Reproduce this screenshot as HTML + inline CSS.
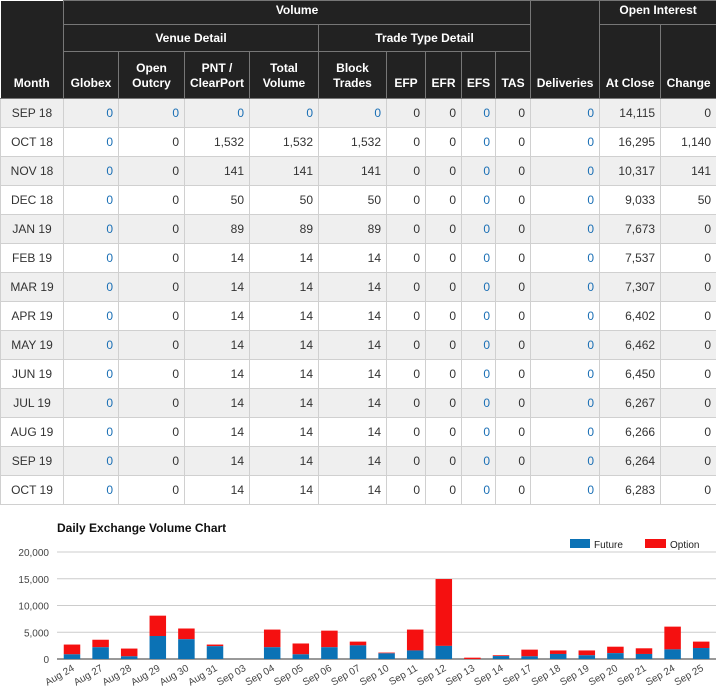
<!DOCTYPE html>
<html><head><meta charset="utf-8"><style>
body{margin:0;width:716px;height:698px;background:#fff;font-family:"Liberation Sans",Arial,sans-serif;overflow:hidden;position:relative}
table{border-collapse:collapse;table-layout:fixed;width:716px;position:absolute;left:0;top:0}
th{background:#222;color:#fff;font-size:12px;font-weight:bold;border:1px solid #777;padding:0 3px;line-height:15px}
th.b{vertical-align:bottom;padding-bottom:7px}
td{font-size:12px;color:#333;border:1px solid #d0d0d0;height:28px;padding:0 5px;text-align:right}
td:first-child{text-align:center}
tr.o td{background:#efefef}
.bl{color:#1a6fb5}
</style></head><body>
<table>
<colgroup><col style="width:63px"><col style="width:55px"><col style="width:66px"><col style="width:65px"><col style="width:69px"><col style="width:68px"><col style="width:39px"><col style="width:36px"><col style="width:34px"><col style="width:35px"><col style="width:69px"><col style="width:61px"><col style="width:56px"></colgroup>
<tr style="height:24px"><th rowspan="3" class="b" style="border-top:none;border-left:none">Month</th><th colspan="9" style="vertical-align:top;padding-top:2px">Volume</th><th rowspan="3" class="b">Deliveries</th><th colspan="2" style="vertical-align:top;padding-top:2px">Open Interest</th></tr>
<tr style="height:27px"><th colspan="4">Venue Detail</th><th colspan="5">Trade Type Detail</th><th rowspan="2" class="b">At Close</th><th rowspan="2" class="b">Change</th></tr>
<tr style="height:47px"><th class="b">Globex</th><th class="b">Open<br>Outcry</th><th class="b">PNT /<br>ClearPort</th><th class="b">Total<br>Volume</th><th class="b">Block<br>Trades</th><th class="b">EFP</th><th class="b">EFR</th><th class="b">EFS</th><th class="b">TAS</th></tr>
<tr class="o"><td>SEP 18</td><td class="bl">0</td><td class="bl">0</td><td class="bl">0</td><td class="bl">0</td><td class="bl">0</td><td>0</td><td>0</td><td class="bl">0</td><td>0</td><td class="bl">0</td><td>14,115</td><td>0</td></tr>
<tr><td>OCT 18</td><td class="bl">0</td><td>0</td><td>1,532</td><td>1,532</td><td>1,532</td><td>0</td><td>0</td><td class="bl">0</td><td>0</td><td class="bl">0</td><td>16,295</td><td>1,140</td></tr>
<tr class="o"><td>NOV 18</td><td class="bl">0</td><td>0</td><td>141</td><td>141</td><td>141</td><td>0</td><td>0</td><td class="bl">0</td><td>0</td><td class="bl">0</td><td>10,317</td><td>141</td></tr>
<tr><td>DEC 18</td><td class="bl">0</td><td>0</td><td>50</td><td>50</td><td>50</td><td>0</td><td>0</td><td class="bl">0</td><td>0</td><td class="bl">0</td><td>9,033</td><td>50</td></tr>
<tr class="o"><td>JAN 19</td><td class="bl">0</td><td>0</td><td>89</td><td>89</td><td>89</td><td>0</td><td>0</td><td class="bl">0</td><td>0</td><td class="bl">0</td><td>7,673</td><td>0</td></tr>
<tr><td>FEB 19</td><td class="bl">0</td><td>0</td><td>14</td><td>14</td><td>14</td><td>0</td><td>0</td><td class="bl">0</td><td>0</td><td class="bl">0</td><td>7,537</td><td>0</td></tr>
<tr class="o"><td>MAR 19</td><td class="bl">0</td><td>0</td><td>14</td><td>14</td><td>14</td><td>0</td><td>0</td><td class="bl">0</td><td>0</td><td class="bl">0</td><td>7,307</td><td>0</td></tr>
<tr><td>APR 19</td><td class="bl">0</td><td>0</td><td>14</td><td>14</td><td>14</td><td>0</td><td>0</td><td class="bl">0</td><td>0</td><td class="bl">0</td><td>6,402</td><td>0</td></tr>
<tr class="o"><td>MAY 19</td><td class="bl">0</td><td>0</td><td>14</td><td>14</td><td>14</td><td>0</td><td>0</td><td class="bl">0</td><td>0</td><td class="bl">0</td><td>6,462</td><td>0</td></tr>
<tr><td>JUN 19</td><td class="bl">0</td><td>0</td><td>14</td><td>14</td><td>14</td><td>0</td><td>0</td><td class="bl">0</td><td>0</td><td class="bl">0</td><td>6,450</td><td>0</td></tr>
<tr class="o"><td>JUL 19</td><td class="bl">0</td><td>0</td><td>14</td><td>14</td><td>14</td><td>0</td><td>0</td><td class="bl">0</td><td>0</td><td class="bl">0</td><td>6,267</td><td>0</td></tr>
<tr><td>AUG 19</td><td class="bl">0</td><td>0</td><td>14</td><td>14</td><td>14</td><td>0</td><td>0</td><td class="bl">0</td><td>0</td><td class="bl">0</td><td>6,266</td><td>0</td></tr>
<tr class="o"><td>SEP 19</td><td class="bl">0</td><td>0</td><td>14</td><td>14</td><td>14</td><td>0</td><td>0</td><td class="bl">0</td><td>0</td><td class="bl">0</td><td>6,264</td><td>0</td></tr>
<tr><td>OCT 19</td><td class="bl">0</td><td>0</td><td>14</td><td>14</td><td>14</td><td>0</td><td>0</td><td class="bl">0</td><td>0</td><td class="bl">0</td><td>6,283</td><td>0</td></tr>
</table>
<svg id="c" width="716" height="193" style="position:absolute;left:0;top:505px" font-family="Liberation Sans, Arial, sans-serif"></svg>
<script>
var s=document.getElementById('c'),h='';
var y0=154,k=107/20000;
h+='<text x="57" y="27" font-size="12" font-weight="bold" fill="#111">Daily Exchange Volume Chart</text>';
h+='<rect x="570" y="34" width="20" height="9" fill="#0b72b5"/><text x="594" y="43" font-size="10" fill="#222">Future</text>';
h+='<rect x="645" y="34" width="21" height="9" fill="#f51010"/><text x="670" y="43" font-size="10" fill="#222">Option</text>';
var t=['20,000','15,000','10,000','5,000','0'];
for(var i=0;i<5;i++){var y=y0-(4-i)*5000*k;h+='<line x1="57" x2="716" y1="'+y+'" y2="'+y+'" stroke="'+(i==4?'#333':'#ccc')+'"/>';h+='<text x="49" y="'+(y+4)+'" font-size="10" fill="#444" text-anchor="end">'+t[i]+'</text>';}
var d=[['Aug 24',875,2700],['Aug 27',2200,3600],['Aug 28',500,1950],['Aug 29',4300,8100],['Aug 30',3700,5700],['Aug 31',2400,2700],['Sep 03',0,0],['Sep 04',2200,5500],['Sep 05',875,2900],['Sep 06',2200,5300],['Sep 07',2550,3250],['Sep 10',1060,1200],['Sep 11',1600,5500],['Sep 12',2450,14950],['Sep 13',0,250],['Sep 14',550,700],['Sep 17',500,1750],['Sep 18',940,1600],['Sep 19',700,1600],['Sep 20',1100,2300],['Sep 21',940,2000],['Sep 24',1800,6050],['Sep 25',2050,3250]];
for(var i=0;i<d.length;i++){var cx=72+i*28.6,w=16.5,x=cx-w/2;var f=d[i][1]*k,tt=d[i][2]*k;
if(tt>f)h+='<rect x="'+x+'" y="'+(y0-tt)+'" width="'+w+'" height="'+(tt-f)+'" fill="#f51010"/>';
if(f>0)h+='<rect x="'+x+'" y="'+(y0-f)+'" width="'+w+'" height="'+f+'" fill="#0b72b5"/>';
h+='<text transform="translate('+(cx+3)+','+(y0+11)+') rotate(-30)" font-size="10" fill="#444" text-anchor="end">'+d[i][0]+'</text>';}
s.innerHTML=h;
</script>
</body></html>
